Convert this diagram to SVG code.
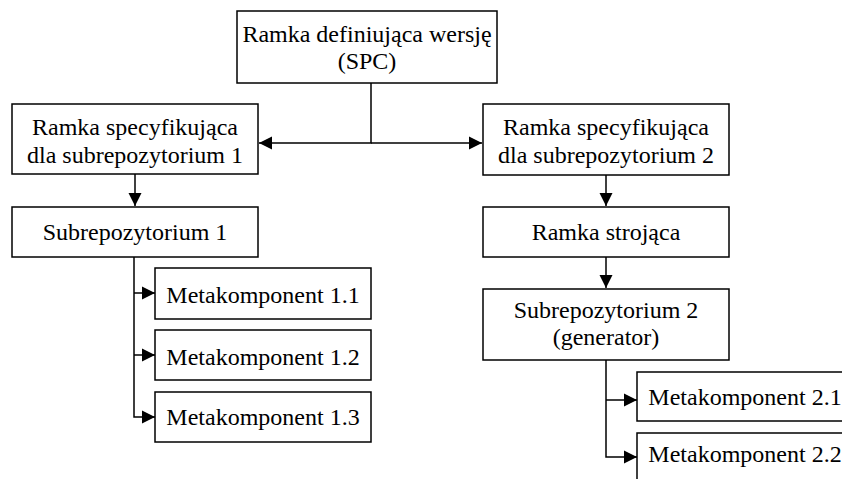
<svg xmlns="http://www.w3.org/2000/svg" width="842" height="479" viewBox="0 0 842 479">
<style>
rect{fill:#fff;stroke:#000;stroke-width:1.5}
text{font-family:"Liberation Serif","Times New Roman",serif;font-size:24px;fill:#000;text-anchor:middle}
.c{fill:none;stroke:#000;stroke-width:1.5}
</style>
<defs>
<marker id="ah" markerUnits="userSpaceOnUse" markerWidth="14" markerHeight="14" refX="13" refY="7" orient="auto">
<path d="M0,0.5 L13,7 L0,13.5 Z" fill="#000"/>
</marker>
</defs>
<g id="connectors">
<path class="c" d="M371,83 V143 H259" marker-end="url(#ah)"/>
<path class="c" d="M371,143 H482" marker-end="url(#ah)"/>
<path class="c" d="M135,174 V206" marker-end="url(#ah)"/>
<path class="c" d="M134,257 V417 H155" marker-end="url(#ah)"/>
<path class="c" d="M134,293 H155" marker-end="url(#ah)"/>
<path class="c" d="M134,355 H155" marker-end="url(#ah)"/>
<path class="c" d="M606,175 V206" marker-end="url(#ah)"/>
<path class="c" d="M606,257 V288" marker-end="url(#ah)"/>
<path class="c" d="M606,360 V457 H637" marker-end="url(#ah)"/>
<path class="c" d="M606,400 H637" marker-end="url(#ah)"/>
</g>
<g id="spc">
<rect x="237" y="11" width="260" height="72"/>
<text x="367" y="42">Ramka definiująca wersję</text>
<text x="367" y="69">(SPC)</text>
</g>
<g id="spec1">
<rect x="12" y="104" width="246" height="70"/>
<text x="135" y="135">Ramka specyfikująca</text>
<text x="135" y="163">dla subrepozytorium 1</text>
</g>
<g id="spec2">
<rect x="483" y="104" width="246" height="71"/>
<text x="606" y="135">Ramka specyfikująca</text>
<text x="606" y="163">dla subrepozytorium 2</text>
</g>
<g id="sub1">
<rect x="12" y="207" width="246" height="50"/>
<text x="135" y="240">Subrepozytorium 1</text>
</g>
<g id="stroj">
<rect x="483" y="207" width="246" height="50"/>
<text x="606" y="240">Ramka strojąca</text>
</g>
<g id="sub2">
<rect x="483" y="289" width="246" height="71"/>
<text x="606" y="318">Subrepozytorium 2</text>
<text x="606" y="345">(generator)</text>
</g>
<g id="meta11">
<rect x="155" y="268" width="216" height="51"/>
<text x="263" y="303">Metakomponent 1.1</text>
</g>
<g id="meta12">
<rect x="155" y="330" width="216" height="50"/>
<text x="263" y="365">Metakomponent 1.2</text>
</g>
<g id="meta13">
<rect x="155" y="392" width="216" height="50"/>
<text x="263" y="425">Metakomponent 1.3</text>
</g>
<g id="meta21">
<rect x="637" y="372" width="216" height="49"/>
<text x="745" y="405">Metakomponent 2.1</text>
</g>
<g id="meta22">
<rect x="637" y="433" width="216" height="60"/>
<text x="745" y="462">Metakomponent 2.2</text>
</g>
</svg>
